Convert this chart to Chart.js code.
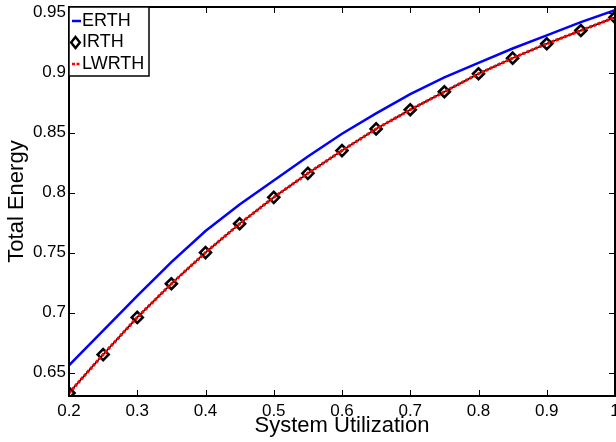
<!DOCTYPE html>
<html>
<head>
<meta charset="utf-8">
<script src="https://cdn.jsdelivr.net/npm/chart.js@4"></script>
<style>
  html, body { margin: 0; padding: 0; background: #fff; }
  #wrap { width: 616px; height: 442px; }
</style>
</head>
<body>
<div id="wrap"><canvas id="chart" width="616" height="442"></canvas></div>
<script>
// values
const utilization = [0.2, 0.25, 0.3, 0.35, 0.4, 0.45, 0.5, 0.55, 0.6, 0.65, 0.7, 0.75, 0.8, 0.85, 0.9, 0.95, 1.0];
const erth  = [0.656, 0.685, 0.714, 0.742, 0.768, 0.790, 0.810, 0.830, 0.849, 0.866, 0.882, 0.896, 0.908, 0.920, 0.931, 0.942, 0.952];
const irth  = [0.633, 0.665, 0.696, 0.724, 0.750, 0.774, 0.796, 0.816, 0.835, 0.853, 0.869, 0.884, 0.899, 0.912, 0.924, 0.935, 0.946];
const lwrth = [0.633, 0.665, 0.696, 0.724, 0.750, 0.774, 0.796, 0.816, 0.835, 0.853, 0.869, 0.884, 0.899, 0.912, 0.924, 0.935, 0.946];

const xTicks = [0.2, 0.3, 0.4, 0.5, 0.6, 0.7, 0.8, 0.9, 1];
const yTicks = [0.65, 0.7, 0.75, 0.8, 0.85, 0.9, 0.95];
const seriesNames = ["ERTH", "IRTH", "LWRTH"];

const FONT = "'Liberation Sans', Arial, Helvetica, sans-serif";

function toPoints(ys) {
  return utilization.map((x, i) => ({ x: x, y: ys[i] }));
}

function fmt(v) {
  return String(Math.round(v * 100) / 100);
}

// matlab style box with inward ticks on all four sides
const boxPlugin = {
  id: "box",
  afterDraw(chart) {
    const ctx = chart.ctx;
    const a = chart.chartArea;
    const xs = chart.scales.x;
    const ys = chart.scales.y;
    const len = 6;
    ctx.save();
    ctx.strokeStyle = "#000";
    ctx.lineWidth = 1;
    ctx.beginPath();
    xTicks.forEach((v) => {
      const px = Math.round(xs.getPixelForValue(v)) + 0.5;
      ctx.moveTo(px, a.bottom);
      ctx.lineTo(px, a.bottom - len);
      ctx.moveTo(px, a.top);
      ctx.lineTo(px, a.top + len);
    });
    yTicks.forEach((v) => {
      const py = Math.round(ys.getPixelForValue(v)) + 0.5;
      ctx.moveTo(a.left, py);
      ctx.lineTo(a.left + len, py);
      ctx.moveTo(a.right, py);
      ctx.lineTo(a.right - len, py);
    });
    ctx.stroke();
    ctx.lineWidth = 2;
    ctx.strokeRect(a.left, a.top, a.right - a.left, a.bottom - a.top);
    ctx.restore();
  },
};

// legend box in the upper left corner of the axes
const legendPlugin = {
  id: "cornerLegend",
  afterDraw(chart) {
    const ctx = chart.ctx;
    const a = chart.chartArea;
    const ds = chart.data.datasets;
    const x0 = a.left, y0 = a.top;
    const w = 80, rowH = 21.5, h = 69;
    ctx.save();
    ctx.fillStyle = "#fff";
    ctx.fillRect(x0, y0, w, h);
    ctx.strokeStyle = "#000";
    ctx.lineWidth = 1.5;
    ctx.strokeRect(x0, y0, w, h);
    ctx.font = "18px " + FONT;
    ctx.textBaseline = "middle";
    ctx.fillStyle = "#000";
    ds.forEach((d, i) => {
      const cy = y0 + 14 + i * rowH;
      const sx0 = x0 + 3, sx1 = x0 + 12;
      if (d.legendKind === "line") {
        ctx.strokeStyle = d.borderColor;
        ctx.lineWidth = 2.5;
        ctx.setLineDash(d.borderDash || []);
        ctx.beginPath();
        ctx.moveTo(sx0, cy);
        ctx.lineTo(sx1, cy);
        ctx.stroke();
        ctx.setLineDash([]);
      } else {
        const cx = (sx0 + sx1) / 2 - 1;
        const r = 5.5;
        ctx.strokeStyle = "#000";
        ctx.lineWidth = 2.4;
        ctx.beginPath();
        ctx.moveTo(cx, cy - r);
        ctx.lineTo(cx + r * 0.8, cy);
        ctx.lineTo(cx, cy + r);
        ctx.lineTo(cx - r * 0.8, cy);
        ctx.closePath();
        ctx.stroke();
      }
      ctx.fillStyle = "#000";
      ctx.fillText(d.label, x0 + 13, cy);
    });
    ctx.restore();
  },
};

new Chart(document.getElementById("chart").getContext("2d"), {
  type: "line",
  data: {
    datasets: [
      {
        label: seriesNames[0],
        data: toPoints(erth),
        borderColor: "#0000ff",
        borderWidth: 2.5,
        pointRadius: 0,
        legendKind: "line",
        order: 3,
      },
      {
        label: seriesNames[1],
        data: toPoints(irth),
        borderColor: "#000",
        borderWidth: 1.5,
        pointStyle: "rectRot",
        pointRadius: 5.5,
        pointBorderWidth: 2.6,
        pointBorderColor: "#000",
        pointBackgroundColor: "rgba(0,0,0,0)",
        legendKind: "marker",
        order: 2,
      },
      {
        label: seriesNames[2],
        data: toPoints(lwrth),
        borderColor: "#ff0000",
        borderWidth: 3,
        borderDash: [3, 1.5],
        pointRadius: 0,
        legendKind: "line",
        order: 1,
      },
    ],
  },
  options: {
    responsive: false,
    animation: false,
    events: [],
    layout: { autoPadding: false, padding: { top: 7, right: 1, left: 0, bottom: 0 } },
    plugins: {
      legend: { display: false },
      tooltip: { enabled: false },
    },
    elements: { line: { tension: 0 } },
    scales: {
      x: {
        type: "linear",
        min: 0.2,
        max: 1,
        afterBuildTicks: (scale) => {
          scale.ticks = xTicks.map((v) => ({ value: v }));
        },
        afterFit: (scale) => {
          scale.height = 46;
          scale.paddingLeft = 0;
          scale.paddingRight = 0;
        },
        grid: { display: false, drawTicks: false },
        border: { display: false },
        ticks: {
          padding: 5,
          color: "#000",
          font: { family: FONT, size: 17 },
          maxRotation: 0,
          autoSkip: false,
          callback: (v) => fmt(v),
        },
        title: {
          display: true,
          text: "System Utilization",
          color: "#000",
          font: { family: FONT, size: 22 },
          padding: { top: 0, bottom: 3 },
        },
      },
      y: {
        type: "linear",
        min: 0.6305,
        max: 0.9546,
        afterBuildTicks: (scale) => {
          scale.ticks = yTicks.map((v) => ({ value: v }));
        },
        afterFit: (scale) => {
          scale.width = 69;
          scale.paddingTop = 0;
          scale.paddingBottom = 0;
        },
        grid: { display: false, drawTicks: false },
        border: { display: false },
        ticks: {
          padding: 3,
          color: "#000",
          font: { family: FONT, size: 17 },
          autoSkip: false,
          callback: (v) => fmt(v),
        },
        title: {
          display: true,
          text: "Total Energy",
          color: "#000",
          font: { family: FONT, size: 22 },
          padding: { top: 4, bottom: 0 },
        },
      },
    },
  },
  plugins: [boxPlugin, legendPlugin],
});
</script>
</body>
</html>
